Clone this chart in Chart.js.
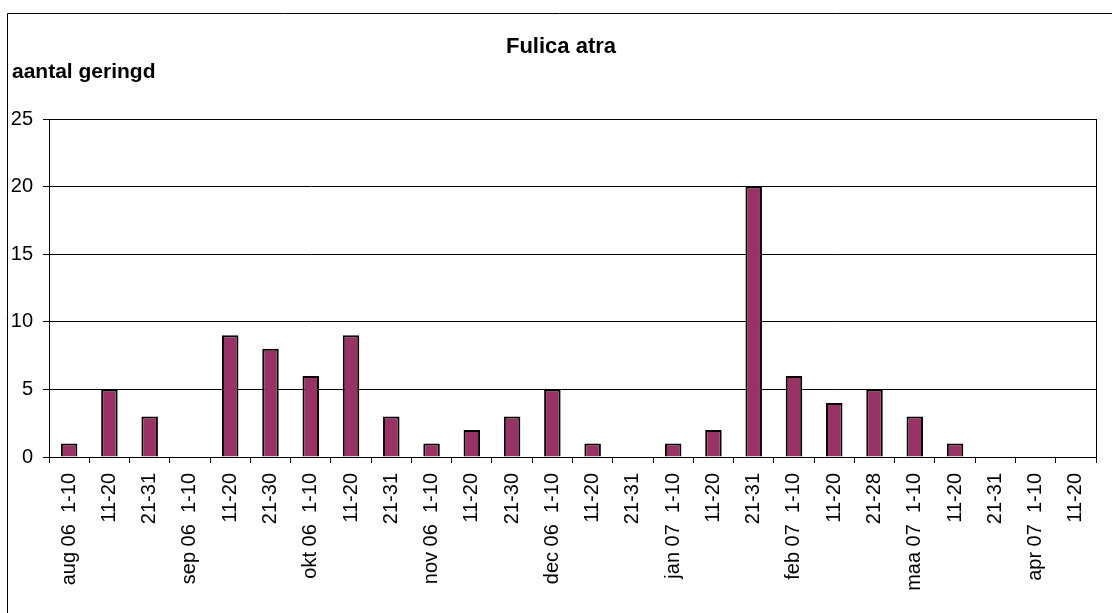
<!DOCTYPE html>
<html>
<head>
<meta charset="utf-8">
<script src="https://cdn.jsdelivr.net/npm/chart.js@4/dist/chart.umd.min.js"></script>
<style>
  body { margin: 0; background: #fff; overflow: hidden; }
  #chart1 { display: block; }
</style>
</head>
<body>
<canvas id="chart1" width="1112" height="613"></canvas>
<script>
var TITLE = 'Fulica atra';
var Y_LABEL = 'aantal geringd';

var periods = [
  'aug 06  1-10', '11-20', '21-31',
  'sep 06  1-10', '11-20', '21-30',
  'okt 06  1-10', '11-20', '21-31',
  'nov 06  1-10', '11-20', '21-30',
  'dec 06  1-10', '11-20', '21-31',
  'jan 07  1-10', '11-20', '21-31',
  'feb 07  1-10', '11-20', '21-28',
  'maa 07  1-10', '11-20', '21-31',
  'apr 07  1-10', '11-20'
];

var ringed = [
  1, 5, 3,
  0, 9, 8,
  6, 9, 3,
  1, 2, 3,
  5, 1, 0,
  1, 2, 20,
  6, 4, 5,
  3, 1, 0,
  0, 0
];

var Y_MIN = 0;
var Y_MAX = 25;
var Y_STEP = 5;

var FONT = 'Arial, "Liberation Sans", sans-serif';

// frame, plot box and the two headings
var decorations = {
  id: 'decorations',
  beforeDraw: function (chart) {
    var ctx = chart.ctx;
    ctx.save();
    ctx.strokeStyle = '#000';
    ctx.lineWidth = 1;
    ctx.beginPath();
    ctx.moveTo(7.5, chart.height);
    ctx.lineTo(7.5, 13.5);
    ctx.lineTo(chart.width, 13.5);
    ctx.stroke();
    ctx.restore();
  },
  afterDraw: function (chart) {
    var ctx = chart.ctx;
    var a = chart.chartArea;
    ctx.save();
    ctx.strokeStyle = '#000';
    ctx.lineWidth = 1;
    ctx.strokeRect(Math.round(a.left) + 0.5, Math.round(a.top) + 0.5,
      Math.round(a.right - a.left), Math.round(a.bottom - a.top));

    ctx.fillStyle = '#000';
    ctx.textBaseline = 'alphabetic';
    ctx.font = 'bold 22px ' + FONT;
    ctx.textAlign = 'center';
    ctx.fillText(TITLE, 561, 53);

    ctx.font = 'bold 21px ' + FONT;
    ctx.textAlign = 'left';
    ctx.fillText(Y_LABEL, 12, 78);
    ctx.restore();
  }
};

var chart = new Chart(document.getElementById('chart1'), {
  type: 'bar',
  data: {
    labels: periods,
    datasets: [{
      data: ringed,
      backgroundColor: '#993366',
      borderColor: '#000',
      borderWidth: 2,
      barPercentage: 0.41,
      categoryPercentage: 1.0
    }]
  },
  options: {
    responsive: false,
    animation: false,
    events: [],
    layout: { padding: { top: 119, left: 0, right: 16, bottom: 0 } },
    plugins: {
      legend: { display: false },
      title: { display: false },
      tooltip: { enabled: false }
    },
    scales: {
      x: {
        offset: true,
        afterFit: function (scale) { scale.height = 156; },
        grid: {
          offset: true,
          drawOnChartArea: false,
          drawTicks: true,
          tickLength: 6,
          color: '#000'
        },
        border: { display: true, color: '#000', width: 1 },
        ticks: {
          autoSkip: false,
          minRotation: 90,
          maxRotation: 90,
          padding: 10,
          color: '#000',
          font: { family: FONT, size: 20 }
        }
      },
      y: {
        min: Y_MIN,
        max: Y_MAX,
        afterFit: function (scale) { scale.width = 49; },
        grid: {
          color: '#000',
          lineWidth: 1,
          drawTicks: true,
          tickLength: 6
        },
        border: { display: true, color: '#000', width: 1 },
        ticks: {
          stepSize: Y_STEP,
          padding: 10,
          color: '#000',
          font: { family: FONT, size: 20 }
        }
      }
    }
  },
  plugins: [decorations]
});
</script>
</body>
</html>
